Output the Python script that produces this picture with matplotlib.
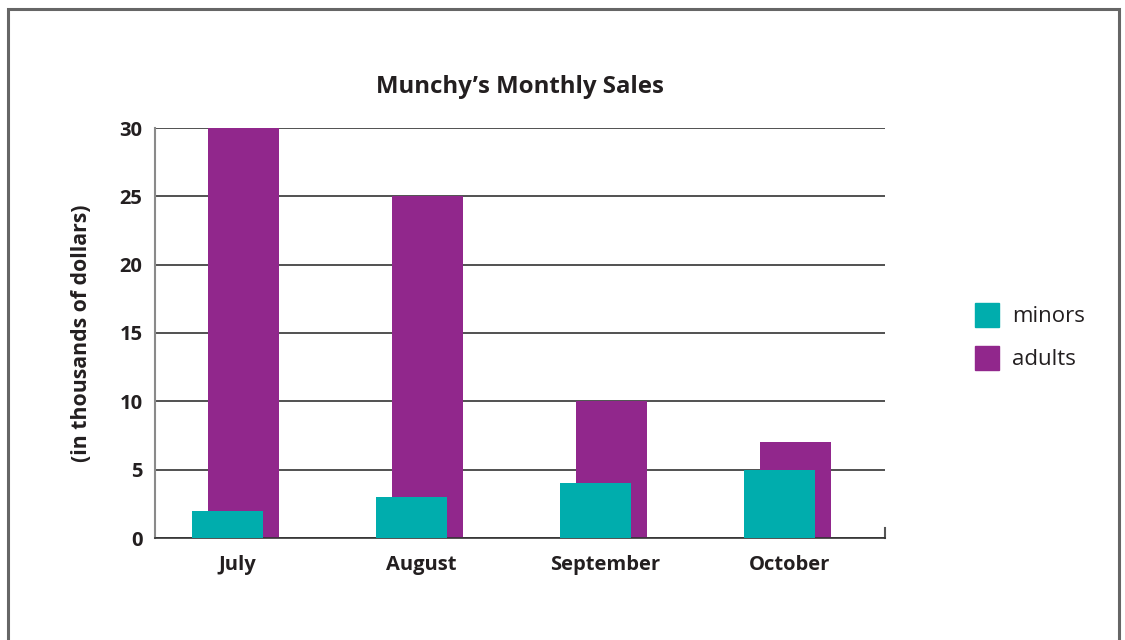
import matplotlib
matplotlib.use("Agg")
import matplotlib.pyplot as plt
import matplotlib.patches as mpatches
import numpy as np

# data
months = ["July", "August", "September", "October"]
minors = [2, 3, 4, 5]
adults = [30, 25, 10, 7]
yticks = [0, 5, 10, 15, 20, 25, 30]

TEAL = "#00ADAD"
PURPLE = "#91278C"
INK = "#231F20"

plt.rcParams["font.family"] = ["Open Sans", "DejaVu Sans"]

fig = plt.figure(figsize=(11.25, 6.4), dpi=100)
ax = fig.add_axes([155 / 1125, 102 / 640, 730 / 1125, 410 / 640])

x = np.arange(len(months))
w = 0.386
ax.bar(x + 0.035, adults, width=w, color=PURPLE, zorder=2, label="adults")
ax.bar(x - 0.054, minors, width=w, color=TEAL, zorder=3, label="minors")

ax.set_xlim(-0.448, 3.52)
ax.set_ylim(0, 30)
ax.set_yticks(yticks)
ax.set_xticks(x)
ax.set_xticklabels(months)
ax.yaxis.grid(True, color="#333333", linewidth=1.2, zorder=1)
ax.set_axisbelow(True)

ax.spines["top"].set_visible(False)
ax.spines["left"].set_color("#8a8a8a")
ax.spines["left"].set_linewidth(1.5)
ax.spines["bottom"].set_color("#333333")
ax.spines["bottom"].set_linewidth(1.2)
ax.spines["right"].set_color("#555555")
ax.spines["right"].set_linewidth(1.5)
ax.spines["right"].set_bounds(0, 0.7)

ax.tick_params(length=0, labelsize=14.5, labelcolor=INK)
ax.tick_params(axis="y", pad=9)
ax.tick_params(axis="x", pad=12)
for lab in ax.get_xticklabels() + ax.get_yticklabels():
    lab.set_fontweight("bold")

ax.set_title("Munchy\u2019s Monthly Sales", fontsize=17.3, fontweight="bold",
             color=INK, pad=25)
ax.set_ylabel("(in thousands of dollars)", fontsize=15.3, fontweight="bold",
              color=INK, labelpad=20)

handles = [mpatches.Patch(color=TEAL, label="minors"),
           mpatches.Patch(color=PURPLE, label="adults")]
fig.legend(handles=handles, loc="upper left", bbox_to_anchor=(0.8665, 0.527),
           frameon=False, fontsize=16, labelcolor=INK, handlelength=1.08,
           handleheight=1.3, handletextpad=0.58, labelspacing=0.84,
           borderaxespad=0, borderpad=0)

# gray frame around the whole picture
frame = mpatches.Rectangle((8 / 1125, -0.05), (1119 - 8) / 1125, (631 / 640) + 0.05,
                           transform=fig.transFigure, fill=False,
                           edgecolor="#666666", linewidth=2.2)
fig.patches.append(frame)

fig.savefig("out.png", dpi=100, facecolor="white")
